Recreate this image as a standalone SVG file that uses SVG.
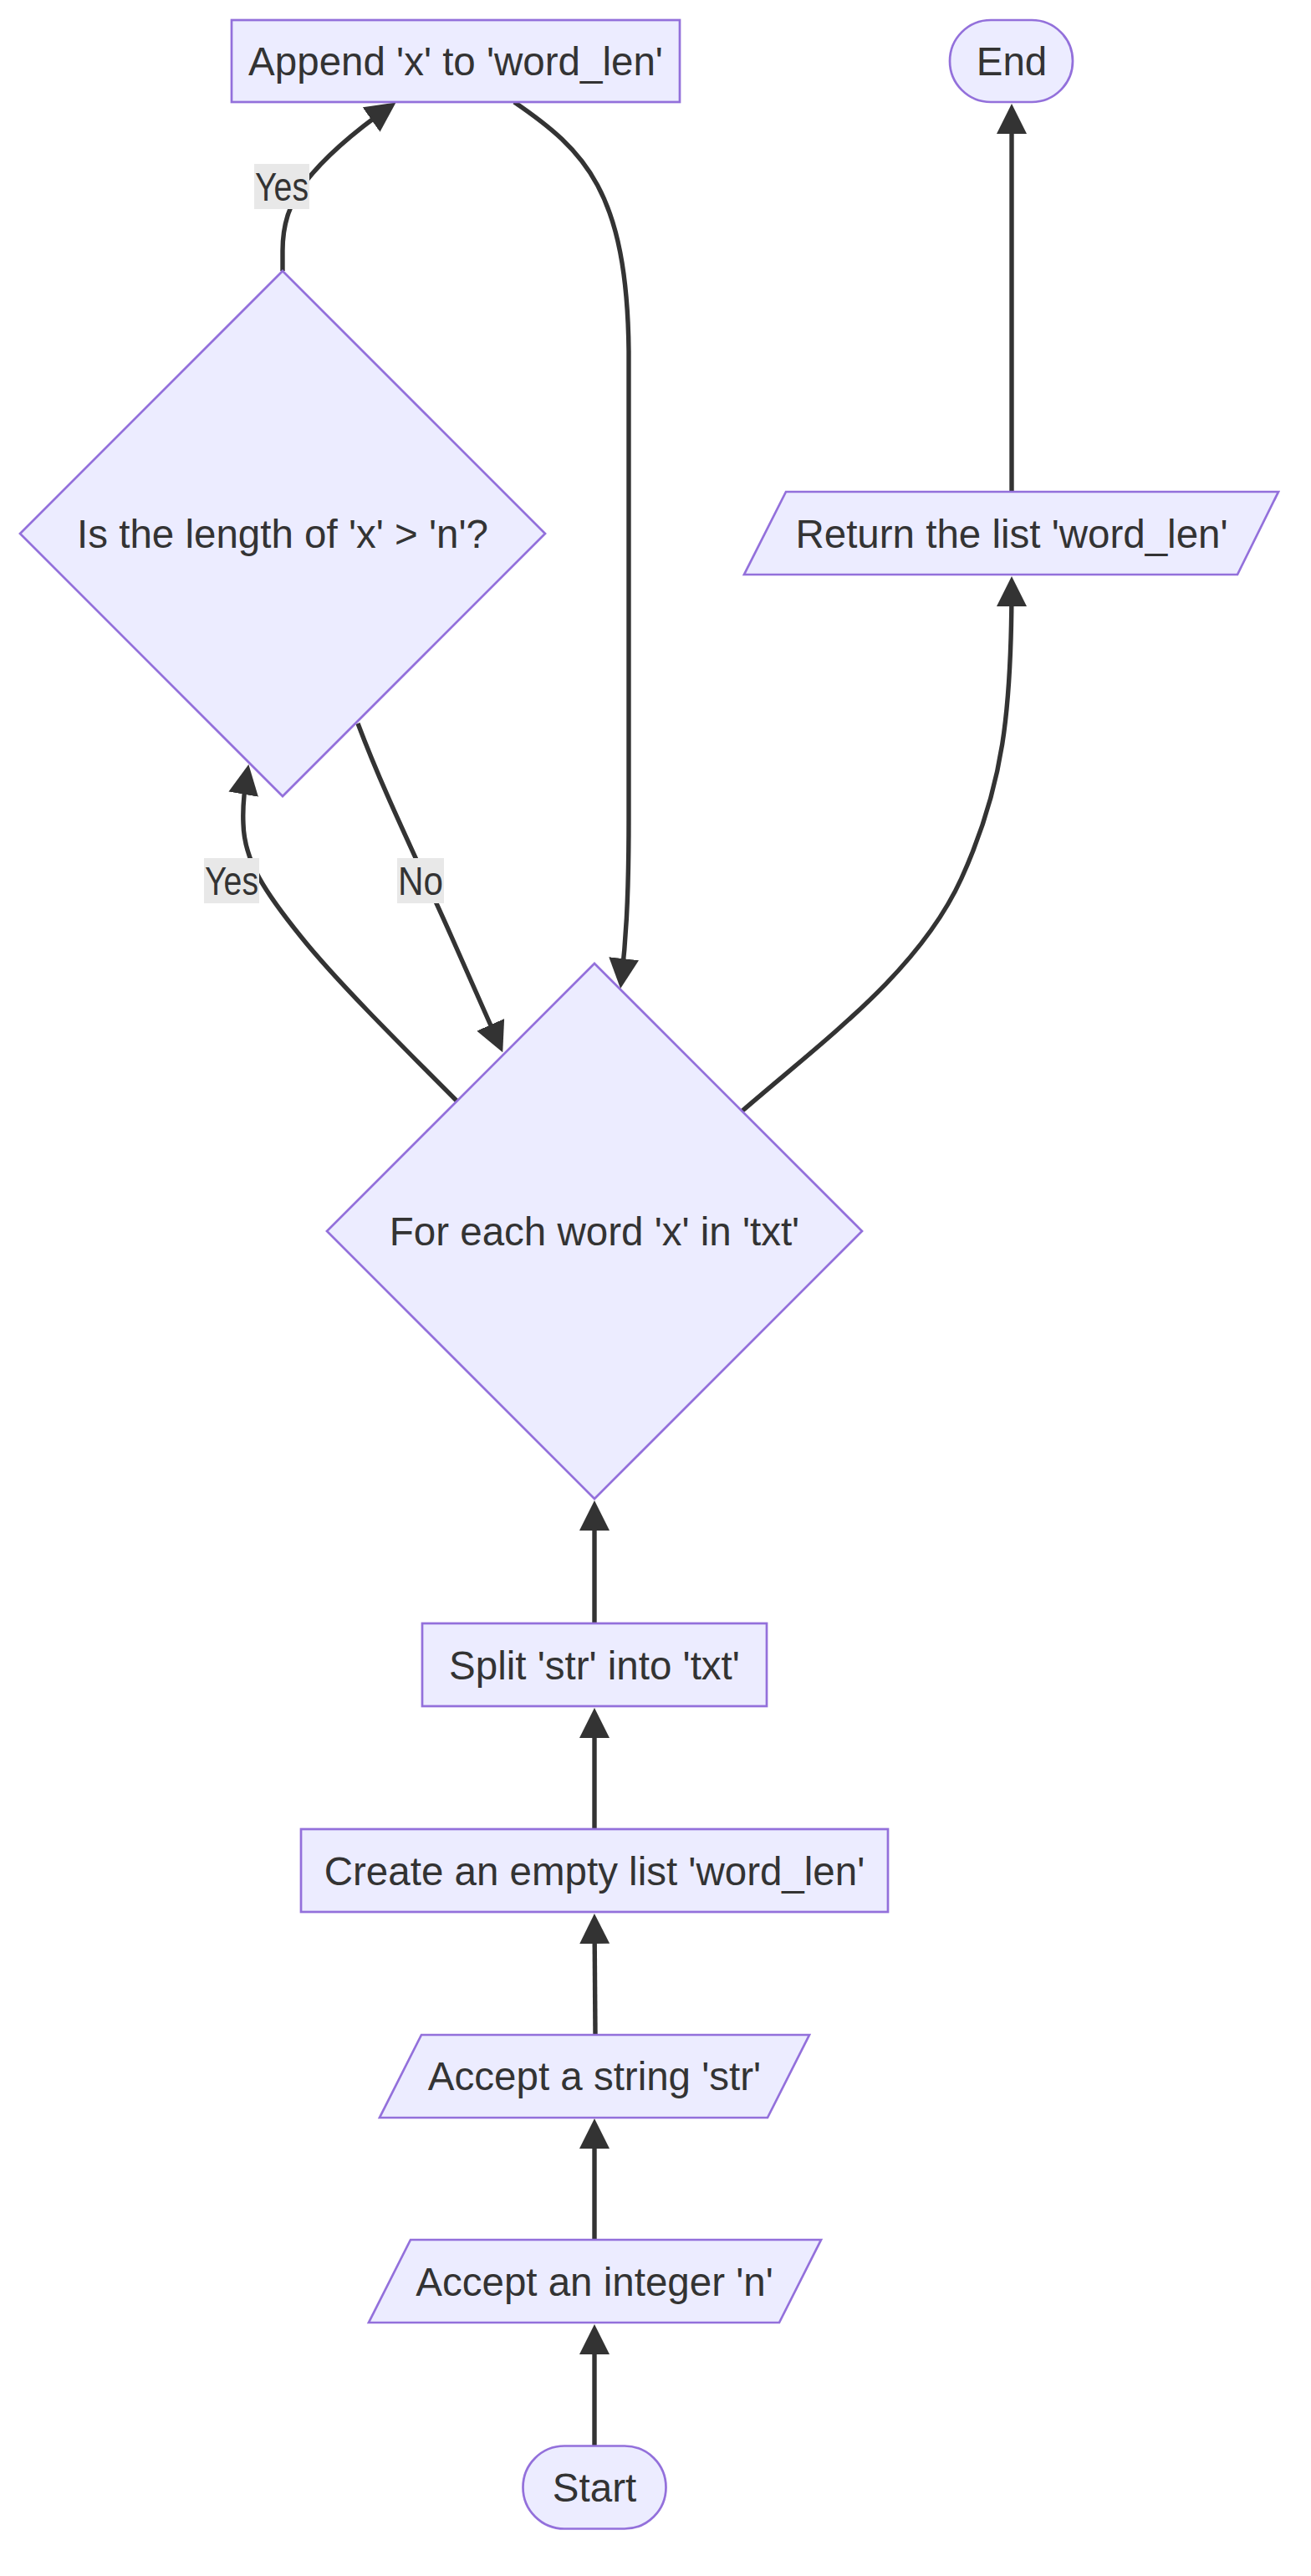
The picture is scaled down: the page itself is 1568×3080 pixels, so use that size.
<svg xmlns="http://www.w3.org/2000/svg" width="1568" height="3080" viewBox="0 0 1568 3080">
<style>
.node rect,.node polygon{fill:#ECECFF;stroke:#9370DB;stroke-width:2.7}
.nt{font-family:"Liberation Sans",Arial,sans-serif;font-size:47.5px;fill:#333333;text-anchor:middle}
.edge{fill:none;stroke:#333333;stroke-width:5.4}
.lbg{fill:#e8e8e8}
</style>
<defs>
<marker id="arr" markerUnits="userSpaceOnUse" markerWidth="36" markerHeight="36" refX="28" refY="18" orient="auto">
<path d="M0,0 L36,18 L0,36 z" fill="#333333"/>
</marker>
</defs>
<rect width="1568" height="3080" fill="#ffffff"/>
<g id="connectors">
<path class="edge" marker-end="url(#arr)" d="M711,2924 L711,2787"/>
<path class="edge" marker-end="url(#arr)" d="M711,2678 L711,2541"/>
<path class="edge" marker-end="url(#arr)" d="M712,2433 L711,2296"/>
<path class="edge" marker-end="url(#arr)" d="M711,2187 L711,2050"/>
<path class="edge" marker-end="url(#arr)" d="M711,1941 L711,1802"/>
<path class="edge" marker-end="url(#arr)" d="M888,1328 C990,1240 1100,1160 1150,1050 C1200,940 1210,850 1210,697"/>
<path class="edge" marker-end="url(#arr)" d="M1210,588 L1210,132"/>
<path class="edge" marker-end="url(#arr)" d="M615,122 C700,180 750,230 752,420 L752,980 C752,1080 748,1130 743,1174"/>
<path class="edge" marker-end="url(#arr)" d="M428,865 C460,950 500,1030 540,1120 L598,1251"/>
<path class="edge" marker-end="url(#arr)" d="M546,1316 C470,1240 400,1170 360,1120 C318,1068 292,1030 291,985 C290,965 292,945 296,922"/>
<path class="edge" marker-end="url(#arr)" d="M338,324 L338,300 C338,270 345,245 365,218 C385,192 420,160 467,127"/>
<g id="label-yes-top"><rect class="lbg" x="304" y="196" width="66" height="54"/><text class="nt" x="337" y="240" textLength="64" lengthAdjust="spacingAndGlyphs">Yes</text></g>
<g id="label-yes-low"><rect class="lbg" x="244" y="1026" width="66" height="54"/><text class="nt" x="277" y="1070" textLength="64" lengthAdjust="spacingAndGlyphs">Yes</text></g>
<g id="label-no"><rect class="lbg" x="475" y="1026" width="56" height="54"/><text class="nt" x="503" y="1070" textLength="54" lengthAdjust="spacingAndGlyphs">No</text></g>
</g>
<g id="start" class="node"><rect x="625.5" y="2924.5" width="171" height="99" rx="49.5" ry="49.5"/><text class="nt" x="711" y="2991">Start</text></g>
<g id="acceptN" class="node"><polygon points="491,2678 982,2678 932,2777 441,2777"/><text class="nt" x="711" y="2745">Accept an integer 'n'</text></g>
<g id="acceptStr" class="node"><polygon points="504,2433 968,2433 918,2532 454,2532"/><text class="nt" x="711" y="2499">Accept a string 'str'</text></g>
<g id="create" class="node"><rect x="360" y="2187" width="702" height="99"/><text class="nt" x="711" y="2254">Create an empty list 'word_len'</text></g>
<g id="split" class="node"><rect x="505" y="1941" width="412" height="99"/><text class="nt" x="711" y="2008">Split 'str' into 'txt'</text></g>
<g id="forEach" class="node"><polygon points="711,1152 1031,1472 711,1792 391,1472"/><text class="nt" x="711" y="1489">For each word 'x' in 'txt'</text></g>
<g id="isLen" class="node"><polygon points="338,324 652,638 338,952 24,638"/><text class="nt" x="338" y="655">Is the length of 'x' &gt; 'n'?</text></g>
<g id="append" class="node"><rect x="277" y="24" width="536" height="98"/><text class="nt" x="545" y="90">Append 'x' to 'word_len'</text></g>
<g id="return" class="node"><polygon points="940,588 1529,588 1480,687 890,687"/><text class="nt" x="1210" y="655">Return the list 'word_len'</text></g>
<g id="end" class="node"><rect x="1136" y="24" width="147" height="98" rx="49" ry="49"/><text class="nt" x="1210" y="90">End</text></g>
</svg>
